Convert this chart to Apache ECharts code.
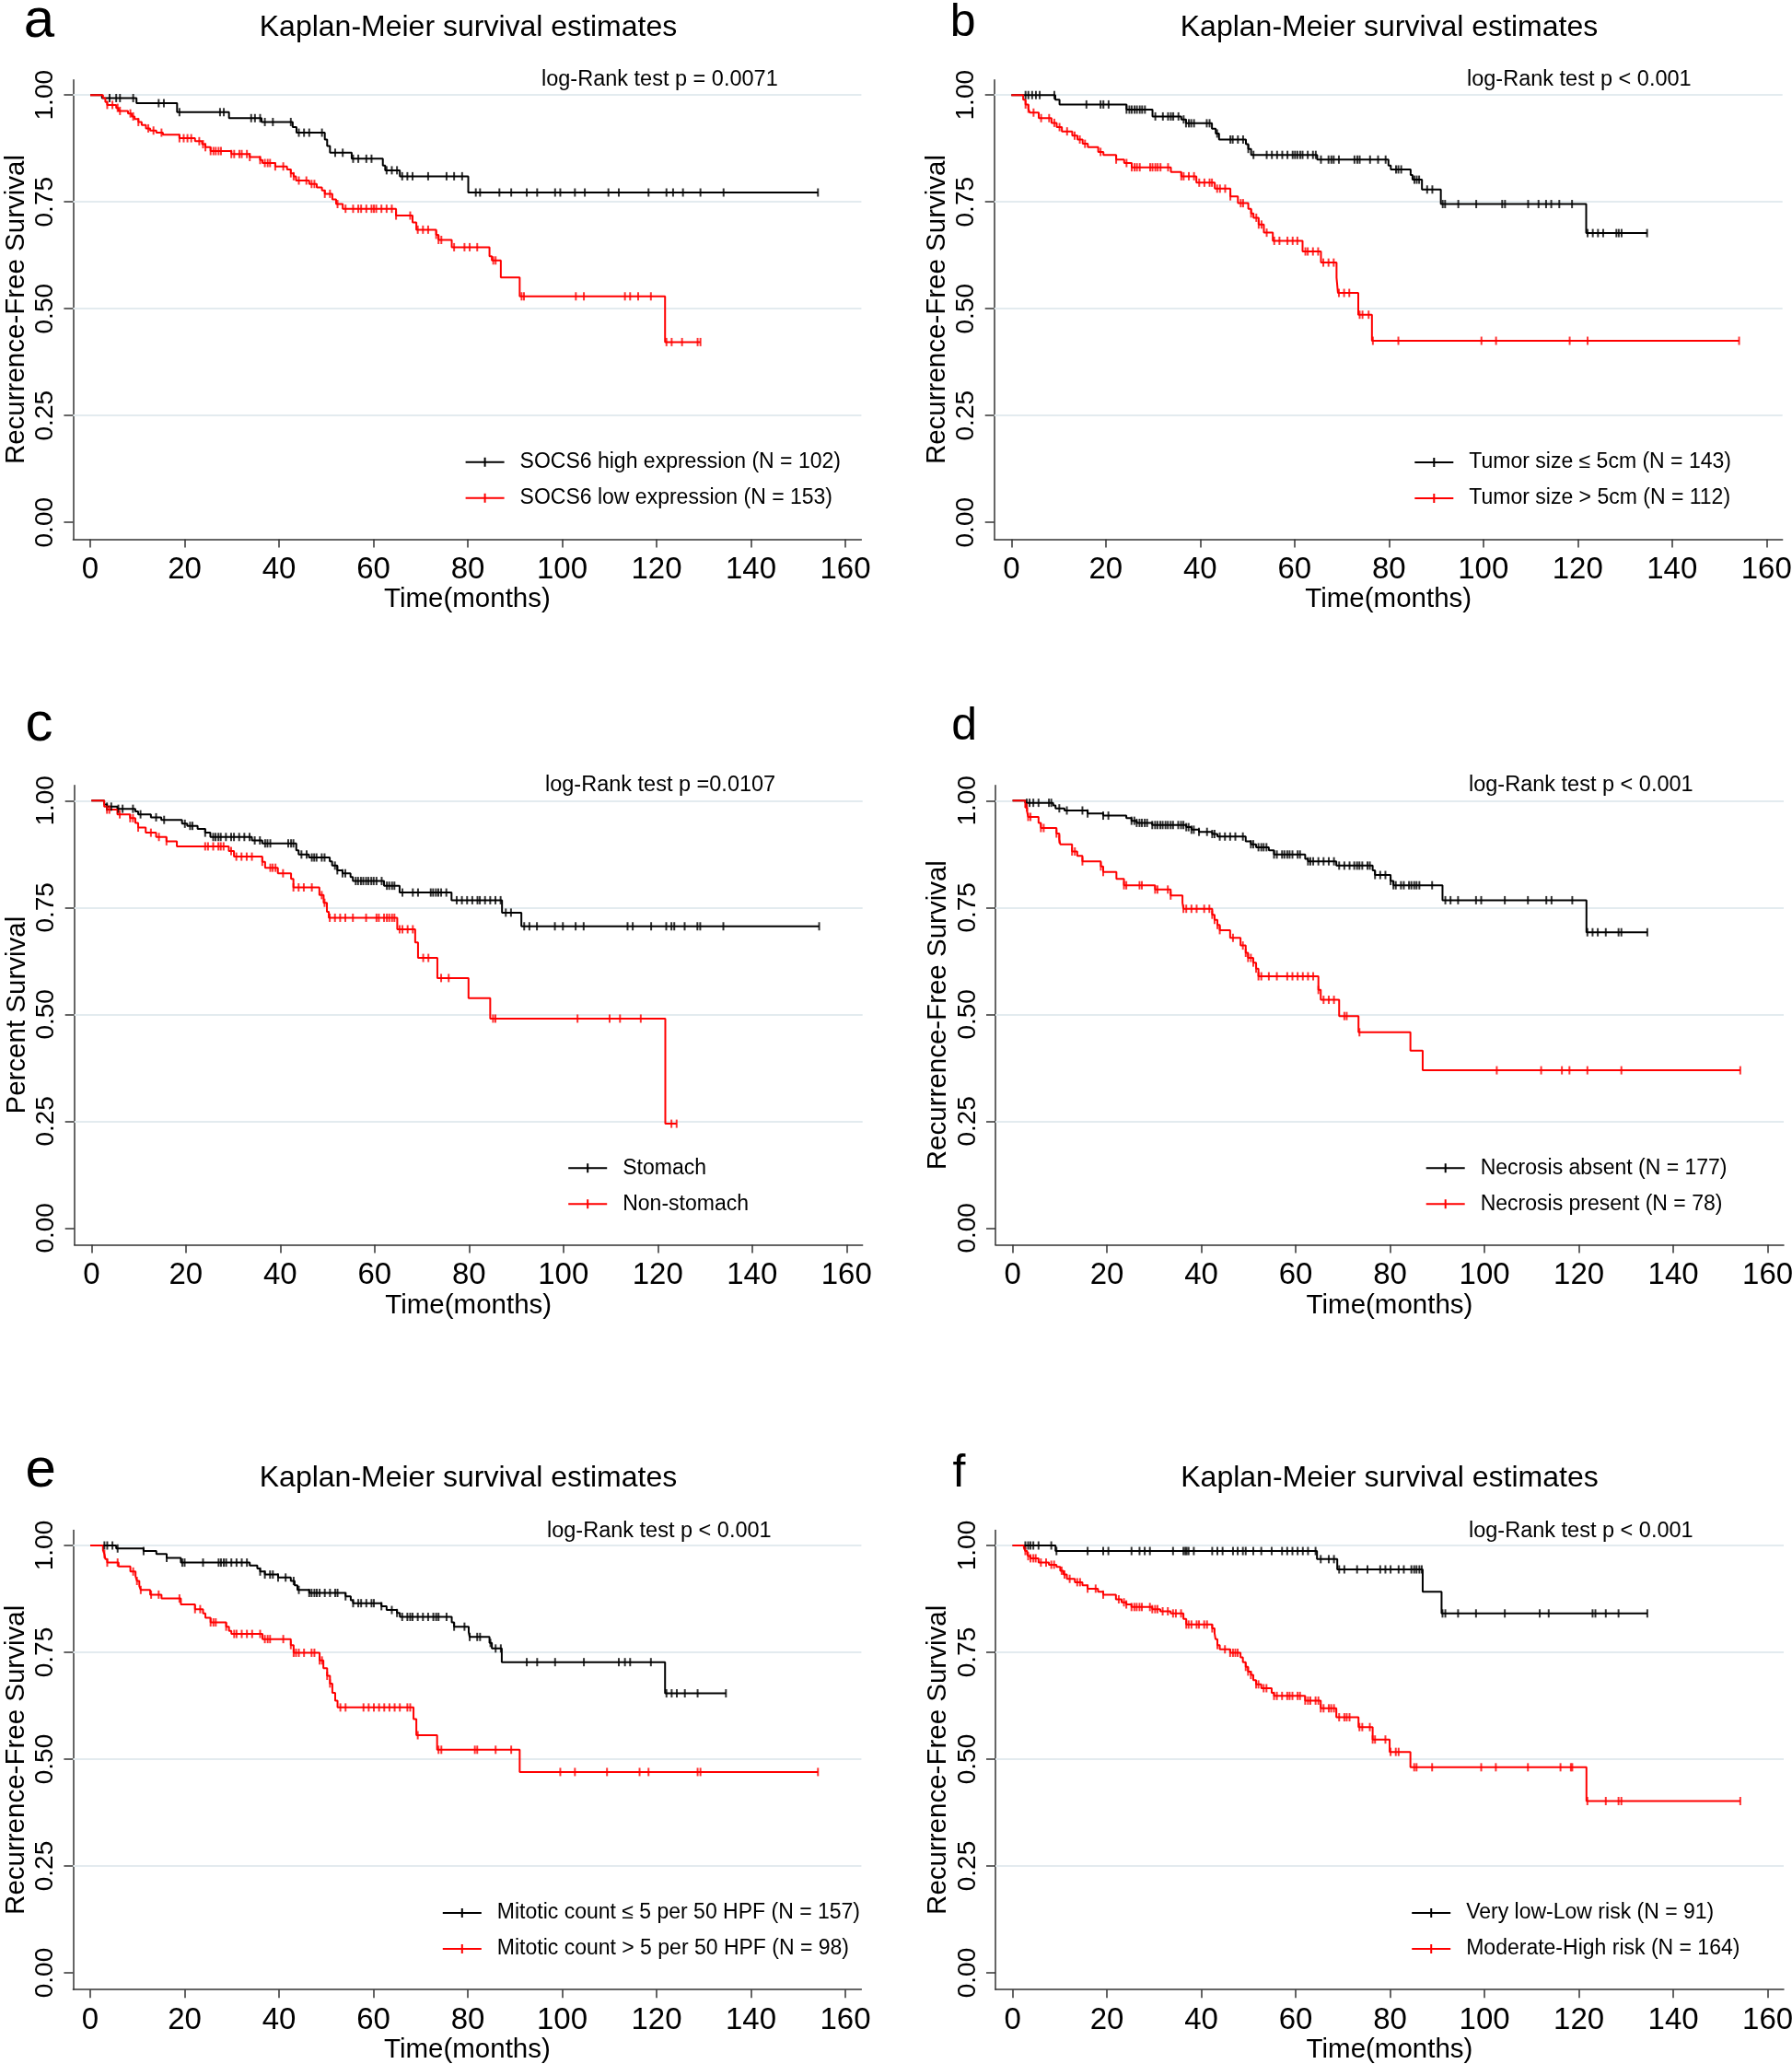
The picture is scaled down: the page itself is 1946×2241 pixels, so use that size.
<!DOCTYPE html>
<html><head><meta charset="utf-8">
<script src="https://cdn.jsdelivr.net/npm/echarts@6/dist/echarts.min.js"></script>
<style>html,body{margin:0;padding:0;background:#fff}#c{width:1946px;height:2241px}</style>
</head><body><div id="c"></div>
<script>
// ---------------- DATA ----------------
const xTicks = [0, 20, 40, 60, 80, 100, 120, 140, 160];
const yTicks = [0, 0.25, 0.5, 0.75, 1];
const panelLetters = ['a', 'b', 'c', 'd', 'e', 'f'];
const panelTitles = ['Kaplan-Meier survival estimates', 'Kaplan-Meier survival estimates', '', '', 'Kaplan-Meier survival estimates', 'Kaplan-Meier survival estimates'];
const logRankTexts = ['log-Rank test p = 0.0071', 'log-Rank test p < 0.001', 'log-Rank test p =0.0107', 'log-Rank test p < 0.001', 'log-Rank test p < 0.001', 'log-Rank test p < 0.001'];
const yAxisNames = ['Recurrence-Free Survival', 'Recurrence-Free Survival', 'Percent Survival', 'Recurrence-Free Survival', 'Recurrence-Free Survival', 'Recurrence-Free Survival'];
const xAxisName = 'Time(months)';
const groupNames = [
  ['SOCS6 high expression (N = 102)', 'SOCS6 low expression (N = 153)'],
  ['Tumor size \u2264 5cm (N = 143)', 'Tumor size > 5cm (N = 112)'],
  ['Stomach', 'Non-stomach'],
  ['Necrosis absent (N = 177)', 'Necrosis present (N = 78)'],
  ['Mitotic count \u2264 5 per 50 HPF (N = 157)', 'Mitotic count > 5 per 50 HPF (N = 98)'],
  ['Very low-Low risk (N = 91)', 'Moderate-High risk (N = 164)']
];

// Panel a
const aBlackT = [0, 2.5, 9.8, 18.4, 29.4, 36.3, 42.9, 43.7, 49.7, 50.2, 50.8, 55.4, 62.0, 62.5, 65.6, 80.1];
const aBlackS = [1, 0.993, 0.981, 0.960, 0.946, 0.937, 0.925, 0.912, 0.896, 0.881, 0.865, 0.851, 0.835, 0.824, 0.810, 0.772];
const aBlackEnd = 154.2;
const aBlackCens = [4.1, 5.5, 6.3, 9.1, 14.5, 15.6, 18.9, 27.5, 28.3, 34.1, 34.9, 36.0, 37.0, 38.7, 42.5, 44.2, 45.3, 46.4, 49.1, 51.9, 53.5, 55.7, 56.8, 58.5, 59.6, 62.8, 63.9, 65.0, 66.1, 67.2, 68.3, 71.6, 75.5, 77.1, 78.8, 81.7, 82.6, 86.7, 89.2, 92.5, 94.7, 98.5, 99.6, 102.7, 104.8, 109.8, 112.0, 118.3, 122.1, 123.5, 125.6, 129.3, 134.2, 154.2];
const aRedT = [0, 2.7, 3.2, 3.6, 5.5, 6.0, 8.0, 8.8, 9.4, 10.2, 10.9, 11.8, 12.7, 14.0, 15.4, 18.9, 22.2, 23.7, 24.4, 25.5, 29.9, 33.8, 36.0, 36.5, 39.2, 41.7, 42.5, 43.1, 43.6, 46.4, 48.0, 49.1, 49.7, 51.3, 52.1, 53.5, 64.8, 68.3, 69.1, 73.3, 73.8, 76.6, 84.6, 85.1, 87.0, 91.0, 121.8];
const aRedS = [1, 0.993, 0.984, 0.977, 0.970, 0.963, 0.957, 0.950, 0.944, 0.937, 0.930, 0.922, 0.917, 0.912, 0.907, 0.899, 0.892, 0.885, 0.878, 0.869, 0.862, 0.855, 0.848, 0.841, 0.833, 0.826, 0.817, 0.810, 0.800, 0.792, 0.784, 0.777, 0.769, 0.756, 0.745, 0.734, 0.718, 0.702, 0.685, 0.673, 0.661, 0.644, 0.623, 0.613, 0.573, 0.529, 0.422];
const aRedEnd = 129.3;
const aRedCens = [3.6, 4.7, 5.8, 6.3, 8.5, 9.1, 10.2, 12.3, 13.4, 15.1, 18.9, 19.8, 20.6, 21.4, 23.1, 23.9, 24.4, 25.5, 26.1, 26.6, 27.2, 27.7, 29.9, 30.5, 31.6, 32.1, 33.2, 33.8, 36.0, 37.0, 37.6, 38.1, 39.2, 40.9, 42.5, 43.1, 44.2, 45.8, 46.9, 47.5, 49.7, 50.8, 52.4, 54.1, 55.7, 56.8, 57.4, 58.5, 59.6, 60.1, 60.6, 61.7, 62.8, 63.9, 64.8, 67.8, 69.4, 70.5, 71.6, 73.3, 73.8, 74.4, 77.1, 79.3, 80.4, 82.0, 85.4, 85.9, 91.4, 91.9, 102.9, 104.6, 113.3, 114.4, 116.1, 118.8, 122.1, 123.2, 125.4, 128.7, 129.3];

// Panel b
const bBlackT = [0, 9.3, 10.2, 24.4, 29.9, 36.0, 37.0, 42.5, 43.3, 44.0, 49.7, 50.2, 50.8, 64.8, 79.9, 80.4, 84.6, 85.0, 87.0, 91.0, 121.8];
const bBlackS = [1, 0.989, 0.978, 0.966, 0.950, 0.943, 0.934, 0.921, 0.910, 0.896, 0.885, 0.874, 0.860, 0.849, 0.835, 0.826, 0.813, 0.802, 0.779, 0.745, 0.677];
const bBlackEnd = 134.7;
const bBlackCens = [3.0, 3.6, 4.4, 5.2, 6.0, 9.1, 15.9, 18.9, 19.5, 20.6, 24.4, 25.0, 25.5, 26.1, 26.6, 27.2, 27.7, 28.3, 30.5, 32.1, 33.2, 33.8, 34.3, 35.4, 36.5, 37.0, 37.6, 38.1, 38.7, 41.4, 42.0, 43.6, 46.4, 46.9, 48.0, 49.1, 50.2, 51.3, 54.1, 55.2, 56.3, 57.4, 58.5, 59.6, 60.1, 60.6, 61.2, 61.7, 62.8, 63.9, 64.5, 65.6, 67.2, 67.8, 68.3, 69.4, 72.7, 73.3, 73.8, 76.0, 77.7, 79.3, 81.5, 82.0, 82.6, 85.4, 85.9, 86.4, 88.1, 89.2, 91.4, 91.9, 94.7, 98.5, 104.0, 104.6, 109.5, 111.7, 113.3, 114.4, 116.1, 118.8, 122.1, 123.2, 124.3, 125.4, 128.2, 128.7, 129.3, 134.7];
const bRedT = [0, 2.5, 3.0, 3.6, 3.9, 5.8, 8.5, 9.6, 10.7, 12.9, 14.0, 15.1, 16.2, 18.4, 19.5, 22.2, 23.9, 25.5, 33.8, 36.0, 39.2, 43.1, 46.4, 48.0, 50.2, 50.8, 51.3, 52.4, 53.5, 55.4, 61.7, 65.6, 68.9, 69.2, 73.5, 76.4];
const bRedS = [1, 0.989, 0.978, 0.968, 0.959, 0.946, 0.935, 0.925, 0.915, 0.905, 0.896, 0.886, 0.878, 0.867, 0.860, 0.849, 0.841, 0.831, 0.820, 0.810, 0.795, 0.781, 0.763, 0.747, 0.734, 0.723, 0.713, 0.697, 0.678, 0.659, 0.634, 0.608, 0.573, 0.537, 0.486, 0.425];
const bRedEnd = 154.2;
const bRedCens = [3.0, 3.6, 4.7, 6.3, 8.0, 9.1, 10.2, 11.8, 13.4, 14.5, 15.6, 18.9, 22.2, 24.4, 25.5, 26.1, 26.6, 27.2, 29.4, 29.9, 30.5, 31.0, 31.6, 33.2, 36.0, 36.5, 37.6, 38.7, 39.8, 40.9, 42.0, 42.5, 43.6, 44.2, 45.3, 46.4, 48.6, 49.1, 50.8, 51.9, 52.4, 53.0, 54.1, 55.7, 56.8, 58.5, 59.6, 60.6, 62.3, 62.8, 63.9, 65.0, 66.1, 67.2, 68.3, 69.4, 70.5, 71.6, 73.8, 74.4, 75.7, 76.6, 82.0, 99.6, 102.7, 118.3, 122.1, 154.2];

// Panel c
const cBlackT = [0, 2.7, 3.3, 5.5, 9.3, 9.9, 12.6, 14.8, 19.2, 20.3, 22.5, 24.1, 25.2, 34.0, 36.2, 43.4, 43.9, 46.1, 50.5, 51.0, 52.1, 53.2, 54.9, 55.4, 62.0, 65.3, 76.3, 87.0, 91.1];
const cBlackS = [1, 0.991, 0.986, 0.981, 0.975, 0.968, 0.961, 0.955, 0.946, 0.941, 0.934, 0.925, 0.915, 0.907, 0.900, 0.884, 0.874, 0.867, 0.858, 0.848, 0.837, 0.830, 0.821, 0.812, 0.801, 0.785, 0.767, 0.738, 0.706];
const cBlackEnd = 154.2;
const cBlackCens = [3.3, 4.2, 5.7, 6.6, 8.8, 10.4, 13.7, 15.4, 19.8, 20.9, 21.4, 24.1, 25.8, 26.3, 26.9, 27.4, 28.5, 29.6, 30.2, 31.3, 32.4, 33.5, 34.6, 35.7, 36.8, 37.3, 37.9, 41.7, 42.3, 42.8, 44.5, 45.6, 46.7, 47.2, 47.7, 48.8, 49.4, 51.6, 52.1, 53.2, 53.8, 56.0, 56.5, 57.1, 57.6, 58.2, 58.7, 59.3, 59.8, 60.4, 61.5, 62.6, 63.1, 63.7, 64.2, 65.9, 68.1, 69.2, 71.9, 72.4, 73.0, 73.5, 74.1, 75.2, 77.4, 78.5, 79.6, 80.7, 81.8, 82.3, 83.4, 84.5, 85.6, 86.7, 87.8, 88.9, 91.7, 92.8, 94.4, 98.2, 99.9, 102.6, 104.3, 113.6, 114.7, 118.6, 121.8, 122.9, 123.5, 125.7, 128.4, 129.0, 133.9, 154.2];
const cRedT = [0, 2.7, 3.3, 5.5, 8.2, 9.3, 9.9, 11.5, 13.7, 15.9, 18.1, 29.1, 30.2, 36.2, 36.8, 39.5, 42.3, 42.8, 48.3, 49.2, 49.9, 50.3, 64.8, 68.6, 69.2, 73.3, 79.9, 84.5, 121.6];
const cRedS = [1, 0.986, 0.979, 0.968, 0.959, 0.948, 0.937, 0.925, 0.915, 0.905, 0.893, 0.882, 0.869, 0.857, 0.843, 0.830, 0.817, 0.797, 0.779, 0.761, 0.740, 0.726, 0.699, 0.668, 0.632, 0.585, 0.538, 0.490, 0.244];
const cRedEnd = 124.0;
const cRedCens = [3.3, 3.8, 6.0, 8.2, 8.8, 9.9, 12.6, 14.3, 15.9, 24.1, 24.7, 25.8, 26.9, 27.4, 28.0, 29.6, 30.7, 31.8, 32.9, 34.0, 36.2, 37.9, 38.4, 39.0, 40.6, 42.8, 43.9, 45.0, 46.7, 48.8, 49.4, 50.5, 51.6, 52.7, 53.8, 55.4, 58.2, 60.4, 60.9, 62.0, 62.6, 63.1, 63.7, 64.2, 65.3, 65.9, 67.0, 68.1, 70.3, 71.4, 74.1, 75.7, 85.1, 85.6, 103.0, 109.8, 112.0, 116.4, 122.9, 124.0];

// Panel d
const dBlackT = [0, 2.7, 8.6, 9.1, 11.0, 15.9, 19.2, 24.1, 25.2, 26.3, 29.6, 36.8, 37.9, 39.5, 42.3, 43.4, 49.4, 50.5, 51.6, 54.3, 55.4, 62.0, 62.6, 68.6, 76.3, 76.8, 80.1, 80.7, 91.1, 121.6];
const dBlackS = [1, 0.995, 0.989, 0.982, 0.977, 0.970, 0.965, 0.959, 0.953, 0.948, 0.943, 0.938, 0.932, 0.927, 0.922, 0.916, 0.905, 0.898, 0.891, 0.884, 0.874, 0.864, 0.858, 0.848, 0.837, 0.826, 0.812, 0.802, 0.767, 0.692];
const dBlackEnd = 134.5;
const dBlackCens = [3.0, 3.6, 4.4, 5.5, 7.7, 8.2, 9.9, 11.5, 14.8, 15.9, 19.2, 20.3, 25.2, 25.8, 26.3, 26.9, 27.4, 28.0, 28.5, 29.6, 30.2, 30.7, 31.3, 31.8, 32.4, 32.9, 33.5, 34.0, 35.1, 35.7, 36.2, 36.8, 37.3, 37.9, 38.4, 39.5, 41.2, 42.3, 42.8, 43.9, 45.0, 46.1, 47.2, 48.8, 50.5, 51.0, 52.1, 52.7, 53.2, 53.8, 55.4, 56.0, 57.1, 57.6, 58.2, 58.7, 59.3, 60.4, 60.9, 62.6, 63.1, 63.7, 64.8, 65.9, 67.0, 68.1, 69.2, 70.3, 71.4, 72.4, 73.0, 73.5, 74.1, 75.2, 75.7, 76.8, 77.9, 79.0, 80.1, 80.7, 81.2, 82.3, 82.9, 84.0, 84.5, 85.1, 85.6, 86.2, 88.9, 91.7, 92.8, 94.4, 98.2, 99.3, 104.3, 109.2, 113.1, 114.2, 118.6, 121.8, 122.9, 124.0, 125.7, 128.4, 129.0, 134.5];
const dRedT = [0, 2.7, 3.1, 3.3, 5.5, 6.0, 9.3, 9.9, 10.1, 12.6, 13.7, 14.8, 18.7, 19.2, 22.0, 23.6, 30.2, 33.5, 36.0, 36.2, 42.3, 42.8, 43.4, 43.9, 46.1, 48.3, 49.4, 49.9, 51.0, 51.6, 52.1, 64.8, 65.3, 69.2, 73.3, 84.3, 86.9];
const dRedS = [1, 0.984, 0.973, 0.962, 0.948, 0.936, 0.923, 0.910, 0.898, 0.881, 0.871, 0.858, 0.846, 0.833, 0.817, 0.802, 0.792, 0.778, 0.761, 0.747, 0.733, 0.721, 0.709, 0.697, 0.679, 0.661, 0.644, 0.632, 0.621, 0.607, 0.589, 0.557, 0.534, 0.496, 0.458, 0.415, 0.369];
const dRedEnd = 154.2;
const dRedCens = [3.0, 3.3, 3.8, 6.0, 6.6, 9.3, 9.9, 12.6, 13.2, 14.8, 18.7, 19.2, 23.6, 24.1, 26.9, 27.4, 30.2, 30.7, 32.9, 33.5, 36.2, 36.8, 37.9, 39.0, 40.6, 41.7, 42.3, 42.8, 43.4, 43.9, 46.7, 48.8, 49.4, 49.9, 50.5, 51.0, 51.6, 52.1, 52.7, 54.3, 56.0, 58.2, 59.3, 60.4, 61.5, 62.6, 63.7, 64.8, 65.9, 67.0, 68.1, 70.3, 70.8, 73.5, 102.6, 112.0, 116.4, 118.0, 121.8, 129.0, 154.2];

// Panel e
const eBlackT = [0, 5.5, 11.3, 14.0, 16.2, 19.2, 33.8, 35.4, 36.0, 37.0, 39.8, 42.5, 43.3, 43.9, 46.4, 54.1, 55.2, 55.7, 61.7, 62.8, 65.0, 65.6, 76.6, 77.1, 80.2, 80.4, 84.6, 85.1, 87.2, 121.8];
const eBlackS = [1, 0.993, 0.987, 0.980, 0.971, 0.960, 0.953, 0.946, 0.939, 0.932, 0.925, 0.917, 0.907, 0.896, 0.889, 0.881, 0.872, 0.865, 0.858, 0.849, 0.842, 0.833, 0.820, 0.810, 0.797, 0.786, 0.772, 0.759, 0.727, 0.654];
const eBlackEnd = 134.7;
const eBlackCens = [3.0, 3.6, 4.7, 5.8, 11.3, 16.2, 19.5, 20.0, 23.9, 27.2, 27.7, 28.3, 28.8, 29.9, 31.0, 32.1, 33.2, 36.0, 37.0, 38.1, 38.7, 39.8, 41.4, 43.1, 44.2, 46.4, 46.9, 47.5, 48.0, 48.6, 49.7, 50.8, 51.9, 52.4, 54.1, 55.7, 56.8, 57.4, 58.5, 59.6, 60.1, 61.7, 63.9, 65.0, 66.1, 67.2, 67.8, 68.3, 69.4, 70.5, 71.6, 72.7, 73.3, 73.8, 75.5, 77.1, 79.3, 80.4, 82.0, 82.6, 84.8, 85.9, 87.0, 92.5, 94.7, 98.5, 104.6, 112.0, 113.3, 114.4, 118.8, 122.1, 123.2, 124.3, 126.0, 128.7, 134.7];
const eRedT = [0, 2.7, 3.0, 3.2, 3.6, 6.0, 8.5, 9.6, 9.9, 10.4, 10.7, 12.7, 15.1, 19.2, 22.2, 23.9, 24.4, 25.5, 28.8, 29.4, 29.9, 36.5, 42.5, 43.1, 48.6, 49.4, 50.2, 50.8, 51.3, 51.9, 52.4, 68.5, 69.1, 73.5, 91.0];
const eRedS = [1, 0.989, 0.980, 0.968, 0.960, 0.951, 0.939, 0.928, 0.917, 0.905, 0.896, 0.885, 0.876, 0.862, 0.851, 0.841, 0.831, 0.820, 0.810, 0.800, 0.793, 0.781, 0.767, 0.749, 0.731, 0.713, 0.695, 0.677, 0.655, 0.637, 0.621, 0.594, 0.556, 0.522, 0.470];
const eRedEnd = 154.2;
const eRedCens = [3.0, 3.6, 5.8, 9.1, 9.9, 10.7, 12.9, 14.5, 18.9, 22.2, 23.3, 25.5, 26.1, 26.6, 28.8, 30.5, 31.0, 32.1, 33.2, 34.3, 36.0, 37.0, 37.6, 38.1, 40.9, 42.5, 43.1, 43.6, 44.2, 45.3, 46.9, 47.5, 48.6, 49.1, 50.2, 50.8, 53.0, 54.1, 57.9, 59.0, 60.1, 61.2, 62.3, 63.4, 64.5, 65.6, 67.2, 67.8, 69.4, 73.8, 74.4, 81.5, 82.0, 85.9, 89.2, 99.6, 102.7, 109.5, 116.4, 118.3, 128.7, 129.3, 154.2];

// Panel f
const fBlackT = [0, 9.1, 64.5, 68.8, 86.9, 90.9];
const fBlackS = [1, 0.987, 0.968, 0.944, 0.892, 0.841];
const fBlackEnd = 134.5;
const fBlackCens = [2.7, 3.3, 3.8, 4.4, 5.5, 8.2, 9.3, 15.9, 19.2, 20.3, 25.2, 26.9, 28.0, 29.1, 34.0, 36.2, 36.6, 36.9, 37.3, 38.4, 42.3, 43.4, 44.5, 46.7, 47.7, 48.8, 49.4, 51.0, 52.7, 54.9, 57.1, 58.2, 59.3, 60.4, 61.5, 62.6, 64.2, 65.3, 67.0, 68.1, 69.2, 70.3, 73.0, 75.2, 77.9, 79.0, 80.1, 81.8, 82.9, 84.5, 85.1, 85.6, 86.2, 86.7, 91.1, 91.7, 94.4, 98.2, 104.3, 111.7, 113.6, 122.9, 123.5, 125.7, 128.4, 134.5];
const fRedT = [0, 2.4, 2.7, 3.1, 3.3, 3.8, 5.5, 7.7, 9.3, 10.1, 10.8, 11.5, 13.2, 14.8, 15.9, 18.1, 19.2, 21.9, 23.1, 24.1, 25.2, 29.6, 31.3, 33.5, 36.2, 36.8, 42.3, 42.8, 43.0, 43.4, 43.9, 46.1, 48.3, 48.8, 49.4, 49.9, 50.5, 51.0, 51.6, 52.7, 54.9, 55.4, 62.0, 65.3, 68.6, 73.3, 76.3, 79.9, 84.3, 121.6];
const fRedS = [1, 0.994, 0.987, 0.980, 0.975, 0.970, 0.960, 0.955, 0.950, 0.941, 0.932, 0.922, 0.914, 0.907, 0.899, 0.892, 0.885, 0.874, 0.867, 0.862, 0.856, 0.851, 0.846, 0.841, 0.828, 0.815, 0.806, 0.795, 0.781, 0.767, 0.757, 0.749, 0.738, 0.727, 0.716, 0.705, 0.697, 0.685, 0.675, 0.666, 0.655, 0.648, 0.637, 0.619, 0.598, 0.575, 0.546, 0.517, 0.481, 0.402];
const fRedEnd = 154.2;
const fRedCens = [2.7, 3.3, 3.8, 4.4, 4.9, 6.0, 7.1, 8.2, 8.8, 10.4, 11.0, 12.1, 13.7, 14.3, 15.9, 17.6, 19.2, 22.5, 23.6, 24.1, 25.2, 25.8, 26.3, 26.9, 27.4, 29.1, 29.6, 30.2, 30.7, 31.8, 32.9, 34.0, 34.6, 35.7, 36.8, 37.3, 37.9, 39.0, 39.5, 40.6, 41.2, 42.3, 43.4, 45.0, 46.1, 46.7, 47.2, 47.7, 49.4, 49.9, 50.5, 51.6, 52.1, 53.2, 53.8, 55.4, 56.0, 57.1, 58.2, 58.7, 59.3, 60.4, 60.9, 62.0, 62.6, 63.1, 64.2, 64.8, 65.3, 65.9, 67.0, 67.5, 68.1, 69.2, 70.3, 70.8, 71.4, 73.5, 74.1, 75.7, 76.3, 76.8, 79.0, 80.1, 81.2, 81.8, 85.1, 85.6, 88.9, 99.3, 102.4, 109.2, 116.1, 118.3, 118.6, 121.8, 125.7, 128.4, 129.0, 154.2];

const curves = [
  [[aBlackT, aBlackS, aBlackEnd, aBlackCens], [aRedT, aRedS, aRedEnd, aRedCens]],
  [[bBlackT, bBlackS, bBlackEnd, bBlackCens], [bRedT, bRedS, bRedEnd, bRedCens]],
  [[cBlackT, cBlackS, cBlackEnd, cBlackCens], [cRedT, cRedS, cRedEnd, cRedCens]],
  [[dBlackT, dBlackS, dBlackEnd, dBlackCens], [dRedT, dRedS, dRedEnd, dRedCens]],
  [[eBlackT, eBlackS, eBlackEnd, eBlackCens], [eRedT, eRedS, eRedEnd, eRedCens]],
  [[fBlackT, fBlackS, fBlackEnd, fBlackCens], [fRedT, fRedS, fRedEnd, fRedCens]]
];

// ---------------- LAYOUT / STYLE ----------------
const FONT = "'Liberation Sans', Arial, Helvetica, sans-serif";
const COLORS = ['#000000', '#ff0000'];
const GRID_W = 856, GRID_H = 498.7;
const X_MIN = -3.63, X_MAX = 163.4, Y_MIN = -0.0392, Y_MAX = 1.0356;
const GRIDS = [
  {left: 79.4, top: 86.7}, {left: 1079.7, top: 86.7},
  {left: 80.7, top: 852.8}, {left: 1081.0, top: 852.8},
  {left: 79.4, top: 1661.5}, {left: 1081.0, top: 1661.5}
];
const LEGENDS = [
  {left: 505.6, top: 490.2}, {left: 1536.3, top: 490.5},
  {left: 617.2, top: 1256.7}, {left: 1548.7, top: 1256.7},
  {left: 480.8, top: 2065.4}, {left: 1533.2, top: 2065.4}
];
const TITLE_POS = [{x: 508.5, y: 30.6}, {x: 1508.5, y: 30.6}, null, null, {x: 508.5, y: 1604.9}, {x: 1509, y: 1604.9}];
const LETTER_POS = [
  {x: 25.7, y: 23.2, s: 60}, {x: 1031.7, y: 25.2, s: 50},
  {x: 27.4, y: 787.2, s: 60}, {x: 1033.3, y: 789.7, s: 50},
  {x: 27.4, y: 1597.1, s: 60}, {x: 1034.5, y: 1600.5, s: 50}
];
const LOGRANK_POS = [{x: 588, y: 86.4}, {x: 1593, y: 86.4}, {x: 592, y: 853.0}, {x: 1595, y: 853.0}, {x: 594, y: 1662.5}, {x: 1595, y: 1662.5}];
const LEG_ICON = 'path://M0,4H42V6H0Z M20,0H22V10H20Z M53.9,4.95H54V5.05H53.9Z';
const AXIS_COLOR = '#333333';
const GRIDLINE_COLOR = '#e3ebef';

// ---------------- BUILD ----------------
function stepValue(T, S, t) {
  let v = S[0];
  for (let i = 0; i < T.length; i++) { if (T[i] <= t) v = S[i]; else break; }
  return v;
}
function curveData(T, S, end) {
  const d = T.map((t, i) => [t, S[i]]);
  d.push([end, S[S.length - 1]]);
  return d;
}

const grid = [], xAxis = [], yAxis = [], series = [], legend = [], graphic = [];
for (let p = 0; p < 6; p++) {
  grid.push({left: GRIDS[p].left, top: GRIDS[p].top, width: GRID_W, height: GRID_H,
    containLabel: false, outerBoundsMode: 'none'});
  xAxis.push({
    type: 'value', gridIndex: p, min: X_MIN, max: X_MAX,
    name: xAxisName, nameLocation: 'middle', nameGap: 46.8,
    nameTextStyle: {fontSize: 29.5, fontFamily: FONT, color: '#000'},
    axisLine: {show: true, onZero: false, lineStyle: {color: AXIS_COLOR, width: 1.5}},
    axisTick: {show: true, length: 9, lineStyle: {color: AXIS_COLOR, width: 1.5}, customValues: xTicks},
    axisLabel: {show: true, customValues: xTicks, margin: 17, fontSize: 33, fontFamily: FONT, color: '#000'},
    splitLine: {show: false}
  });
  yAxis.push({
    type: 'value', gridIndex: p, min: Y_MIN, max: Y_MAX,
    name: yAxisNames[p], nameLocation: 'middle', nameGap: 47, nameRotate: 90,
    nameTextStyle: {fontSize: 29.5, fontFamily: FONT, color: '#000'},
    axisLine: {show: true, onZero: false, lineStyle: {color: AXIS_COLOR, width: 1.5}},
    axisTick: {show: true, length: 10, lineStyle: {color: AXIS_COLOR, width: 1.5}, customValues: yTicks},
    axisLabel: {show: true, customValues: yTicks, rotate: 90, margin: 16, fontSize: 28, fontFamily: FONT, color: '#000',
      formatter: v => Number(v).toFixed(2)},
    splitLine: {show: false}
  });
  for (let g = 0; g < 2; g++) {
    const [T, S, end] = curves[p][g];
    const s = {
      type: 'line', name: groupNames[p][g], xAxisIndex: p, yAxisIndex: p,
      step: 'end', data: curveData(T, S, end), symbol: 'none', showSymbol: false,
      lineStyle: {color: COLORS[g], width: 2}, itemStyle: {color: COLORS[g]},
      z: 3 + g, animation: false, silent: true
    };
    if (g === 0) {
      s.markLine = {
        silent: true, symbol: ['none', 'none'], z: 1, animation: false,
        label: {show: false},
        lineStyle: {color: GRIDLINE_COLOR, width: 2, type: 'solid'},
        emphasis: {disabled: true},
        data: yTicks.filter(v => v > 0).map(v => ({yAxis: v}))
      };
    }
    series.push(s);
  }
  for (let g = 0; g < 2; g++) {
    const [T, S, end, cens] = curves[p][g];
    series.push({
      type: 'scatter', name: groupNames[p][g] + ' (censored)', xAxisIndex: p, yAxisIndex: p,
      data: cens.map(t => [t, stepValue(T, S, t)]),
      symbol: 'rect', symbolSize: [2, 9], itemStyle: {color: COLORS[g]},
      z: 5 + g, animation: false, silent: true
    });
  }
  legend.push({
    orient: 'vertical', left: LEGENDS[p].left, top: LEGENDS[p].top, padding: 0,
    itemGap: 16, itemWidth: 54, itemHeight: 10, selectedMode: false,
    data: [
      {name: groupNames[p][0], icon: LEG_ICON, itemStyle: {color: COLORS[0], borderWidth: 0}},
      {name: groupNames[p][1], icon: LEG_ICON, itemStyle: {color: COLORS[1], borderWidth: 0}}
    ],
    textStyle: {fontSize: 23, lineHeight: 23, fontFamily: FONT, color: '#000'}
  });
  if (TITLE_POS[p]) {
    graphic.push({type: 'text', x: TITLE_POS[p].x, y: TITLE_POS[p].y, silent: true,
      style: {text: panelTitles[p], fontSize: 32, fontFamily: FONT, fill: '#000', align: 'center', verticalAlign: 'middle'}});
  }
  graphic.push({type: 'text', x: LETTER_POS[p].x, y: LETTER_POS[p].y, silent: true,
    style: {text: panelLetters[p], fontSize: LETTER_POS[p].s, fontFamily: FONT, fill: '#000', align: 'left', verticalAlign: 'middle'}});
  graphic.push({type: 'text', x: LOGRANK_POS[p].x, y: LOGRANK_POS[p].y, silent: true,
    style: {text: logRankTexts[p], fontSize: 23.5, fontFamily: FONT, fill: '#000', align: 'left', verticalAlign: 'middle'}});
}

const chart = echarts.init(document.getElementById('c'), null, {renderer: 'canvas', width: 1946, height: 2241});
chart.setOption({
  backgroundColor: '#ffffff',
  animation: false,
  grid, xAxis, yAxis, series, legend, graphic
});
</script>
</body></html>
